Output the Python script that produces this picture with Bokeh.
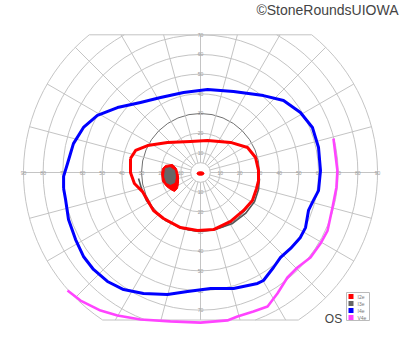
import numpy as np
from bokeh.plotting import figure
from bokeh.models import Range1d
from bokeh.core.properties import value
from bokeh.embed import file_html
from bokeh.resources import INLINE

# ---------------- data (degrees of visual field) ----------------
ring_radii = [5, 10, 20, 30, 40, 50, 60, 70, 80, 90]
spoke_angles = list(range(0, 360, 15))
h_tick_labels = [10, 20, 30, 40, 50, 60, 70, 80, 90]
v_tick_labels = [10, 20, 30, 40, 50, 60, 70]
field_top = 70
field_bottom = -75

I4e_x = [-69.6, -69.6, -67.6, -64.6, -59.5, -52.4, -42.2, -30.5, -20.3, -8.6, 3.6, 16.8,
         32.0, 42.2, 50.8, 56.9, 60.0, 61.0, 60.0, 57.4, 54.9, 53.4, 50.8, 45.8, 40.7,
         37.1, 32.0, 29.0, 16.8, 5.1, -6.6, -16.8, -29.0, -39.1, -47.3, -54.4, -59.5,
         -63.5, -67.1, -68.6, -69.6]
I4e_y = [-8.1, -2.0, 4.6, 14.7, 22.9, 29.0, 33.0, 35.6, 38.1, 40.7, 42.2, 41.2,
         39.1, 36.6, 30.5, 22.9, 12.7, 1.0, -9.2, -14.2, -19.3, -28.0, -33.0, -38.6, -43.2,
         -48.3, -54.9, -56.4, -59.0, -59.0, -60.5, -62.0, -61.5, -59.5, -55.4, -49.3, -42.7,
         -34.1, -23.9, -13.7, -8.1]

V4e_x = [67.6, 69.6, 69.1, 67.1, 64.6, 61.0, 55.9, 49.3, 44.2, 39.1, 34.1, 26.9, 18.8,
         13.7, 0.0, -15.3, -30.5, -42.2, -50.8, -61.0, -67.6]
V4e_y = [17.3, 1.0, -7.6, -17.8, -29.5, -36.1, -43.2, -48.3, -53.4, -61.5, -68.1, -70.7,
         -73.2, -75.2, -76.3, -75.7, -74.7, -72.7, -70.2, -65.1, -60.0]

I2e_x = [-35.6, -33.0, -26.9, -16.8, -5.1, 3.6, 15.3, 23.9, 28.0, 29.5, 29.5, 28.5, 26.4,
         21.9, 15.3, 6.6, -1.5, -10.2, -18.8, -23.9, -26.9, -29.5, -33.6, -35.6, -35.6]
I2e_y = [7.1, 11.2, 13.7, 15.3, 15.8, 16.3, 15.3, 12.7, 7.6, 1.0, -4.1, -8.1, -14.2,
         -19.3, -24.9, -29.0, -29.5, -28.0, -23.4, -19.3, -14.2, -9.7, -5.6, 0.0, 7.1]

I3e_x = [-31.5, -30.0, -27.5, -22.9, -17.8, -9.2, -1.0, 7.6, 16.3, 22.9, 27.5, 29.5, 30.0]
I3e_y = [-3.1, -8.1, -14.2, -20.3, -24.4, -28.5, -30.0, -29.0, -25.9, -20.8, -14.7, -8.6, -3.1]

spot_I2e_x = [-17.8, -14.2, -12.2, -11.2, -11.2, -11.7, -13.2, -15.3, -17.3, -19.3, -19.8, -19.3]
spot_I2e_y = [3.6, 4.1, 2.0, -1.5, -5.6, -8.1, -9.7, -8.6, -7.1, -4.6, -0.5, 2.0]
spot_I3e_x = [-17.8, -15.3, -13.2, -12.7, -13.2, -15.3, -17.3, -18.3]
spot_I3e_y = [2.0, 2.5, 1.0, -2.0, -5.1, -6.1, -5.1, -2.0]

legend_names = ["I2e", "I3e", "I4e", "V4e"]
legend_colors = ["#ff0000", "#666666", "#0000ff", "#ff44ff"]

# ---------------- figure ----------------
S = 1.967  # px per degree
W, H = 400, 352
cx, cy = 200, 172
p = figure(width=W, height=H, output_backend="svg", toolbar_location=None,
           x_range=Range1d(-cx / S, (W - cx) / S), y_range=Range1d(-(H - cy) / S, cy / S),
           min_border=0, background_fill_color="white", border_fill_color="white")
p.outline_line_color = None
p.axis.visible = False
p.grid.visible = False

grid_col = "#c4c4c4"

# rings, clipped to the field top/bottom
for r in ring_radii:
    a_top = np.arcsin(min(1.0, field_top / r))
    a_bot = np.arcsin(max(-1.0, field_bottom / r))
    col = "#707070" if r == 30 else grid_col
    p.arc(x=[0, 0], y=[0, 0], radius=r, start_angle=[a_bot, np.pi - a_top],
          end_angle=[a_top, np.pi - a_bot], line_color=col, line_width=1)

# top and bottom chords
R = ring_radii[-1]
xt = np.sqrt(R ** 2 - field_top ** 2)
xb = np.sqrt(R ** 2 - field_bottom ** 2)
p.segment(x0=[-xt, -xb], y0=[field_top, field_bottom], x1=[xt, xb],
          y1=[field_top, field_bottom], line_color=grid_col, line_width=1)

# spokes
x0s, y0s, x1s, y1s = [], [], [], []
for a in spoke_angles:
    t = np.radians(a)
    s = np.sin(t)
    rmax = R
    if s > 1e-9:
        rmax = min(rmax, field_top / s)
    elif s < -1e-9:
        rmax = min(rmax, field_bottom / s)
    r0 = ring_radii[0]
    x0s.append(r0 * np.cos(t)); y0s.append(r0 * np.sin(t))
    x1s.append(rmax * np.cos(t)); y1s.append(rmax * np.sin(t))
p.segment(x0=x0s, y0=y0s, x1=x1s, y1=y1s, line_color=grid_col, line_width=1)

# tick labels
lab_x = [-v for v in h_tick_labels] + h_tick_labels + [0] * (2 * len(v_tick_labels))
lab_y = [0] * (2 * len(h_tick_labels)) + v_tick_labels + [-v for v in v_tick_labels]
lab_t = [str(v) for v in h_tick_labels] * 2 + [str(v) for v in v_tick_labels] * 2
p.text(x=lab_x, y=lab_y, text=lab_t, text_font=value("Liberation Sans"),
       text_font_size="5px", text_color="#9a9a9a", text_align="center",
       text_baseline="middle")

# isopters
p.line(I3e_x, I3e_y, line_color="#555555", line_width=1.6, line_join="round")
p.line(I2e_x, I2e_y, line_color="#ff0000", line_width=3, line_join="round")
p.line(I4e_x, I4e_y, line_color="#0000ff", line_width=3, line_join="round")
p.line(V4e_x, V4e_y, line_color="#ff44ff", line_width=2.6, line_join="round")

# blind spot and central dot
p.patch(spot_I2e_x, spot_I2e_y, fill_color="#ff0000", line_color="#ff0000", line_width=1,
        line_join="round")
p.patch(spot_I3e_x, spot_I3e_y, fill_color="#666666", line_color="#666666", line_width=1,
        line_join="round")
p.ellipse(x=[0], y=[-0.5], width=3.6, height=1.8, fill_color="#ff0000", line_color="#ff0000")

# legend box
lx0, lx1, ly0, ly1 = (346 - cx) / S, (369 - cx) / S, (cy - 320) / S, (cy - 292) / S
p.quad(left=[lx0], right=[lx1], bottom=[ly0], top=[ly1], fill_color="white",
       line_color="#bbbbbb", line_width=1)
rows_y = [(cy - v) / S for v in (296, 303, 310, 317)]
p.rect(x=[(350.5 - cx) / S] * 4, y=rows_y, width=5 / S, height=5 / S,
       fill_color=legend_colors, line_color=None)
p.text(x=[(357 - cx) / S] * 4, y=rows_y, text=legend_names,
       text_font=value("Liberation Sans"), text_font_size="5px", text_color="#777777",
       text_baseline="middle", text_align="left")

# OS label
p.text(x=[(333 - cx) / S], y=[(cy - 318) / S], text=["OS"],
       text_font=value("Liberation Sans"), text_font_size="12px", text_color="#444444",
       text_align="center", text_baseline="middle")

# watermark
p.text(x=[(398 - cx) / S], y=[(cy - 1) / S], text=["©StoneRoundsUIOWA"],
       text_font=value("Liberation Sans"), text_font_size="14px", text_color="#444444",
       text_align="right", text_baseline="top")

open("out.html", "w").write(file_html(p, INLINE))
